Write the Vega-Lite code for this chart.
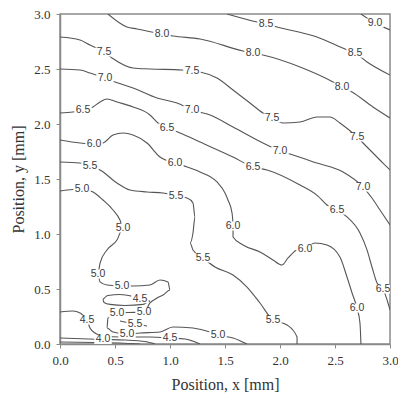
{
  "$schema": "https://vega.github.io/schema/vega-lite/v6.json",
  "width": 330,
  "height": 330,
  "autosize": {"type": "none"},
  "padding": {"left": 60, "top": 14, "right": 8, "bottom": 52},
  "background": "white",
  "config": {
    "view": {"stroke": "#8a8a8a", "strokeWidth": 1.5},
    "axis": {
      "grid": false,
      "labelFlush": false,
      "domainColor": "#8a8a8a",
      "domainWidth": 1.5,
      "tickColor": "#8a8a8a",
      "tickSize": 4,
      "labelFont": "Liberation Serif",
      "labelFontSize": 13,
      "labelColor": "#333333",
      "titleFont": "Liberation Serif",
      "titleFontSize": 16,
      "titleFontWeight": "normal",
      "titleColor": "#333333"
    }
  },
  "datasets": {
    "lines": [
      {"id": "9.0", "i": 0, "x": 2.736, "y": 3.0}, {"id": "9.0", "i": 1, "x": 2.864, "y": 2.918}, {"id": "9.0", "i": 2, "x": 3.0, "y": 2.855},

      {"id": "8.5", "i": 0, "x": 1.518, "y": 3.0}, {"id": "8.5", "i": 1, "x": 1.791, "y": 2.927}, {"id": "8.5", "i": 2, "x": 1.873, "y": 2.909},
      {"id": "8.5", "i": 3, "x": 1.973, "y": 2.882}, {"id": "8.5", "i": 4, "x": 2.336, "y": 2.791}, {"id": "8.5", "i": 5, "x": 2.609, "y": 2.673},
      {"id": "8.5", "i": 6, "x": 2.682, "y": 2.645}, {"id": "8.5", "i": 7, "x": 2.791, "y": 2.564}, {"id": "8.5", "i": 8, "x": 3.0, "y": 2.445},

      {"id": "8.0", "i": 0, "x": 0.436, "y": 3.0}, {"id": "8.0", "i": 1, "x": 0.609, "y": 2.882}, {"id": "8.0", "i": 2, "x": 0.7, "y": 2.864},
      {"id": "8.0", "i": 3, "x": 0.927, "y": 2.818}, {"id": "8.0", "i": 4, "x": 1.027, "y": 2.8}, {"id": "8.0", "i": 5, "x": 1.273, "y": 2.773},
      {"id": "8.0", "i": 6, "x": 1.664, "y": 2.664}, {"id": "8.0", "i": 7, "x": 1.755, "y": 2.645}, {"id": "8.0", "i": 8, "x": 1.845, "y": 2.627},
      {"id": "8.0", "i": 9, "x": 2.182, "y": 2.518}, {"id": "8.0", "i": 10, "x": 2.482, "y": 2.382}, {"id": "8.0", "i": 11, "x": 2.564, "y": 2.336},
      {"id": "8.0", "i": 12, "x": 2.655, "y": 2.291}, {"id": "8.0", "i": 13, "x": 2.845, "y": 2.155}, {"id": "8.0", "i": 14, "x": 3.0, "y": 2.055},

      {"id": "7.5", "i": 0, "x": 0.0, "y": 2.791}, {"id": "7.5", "i": 1, "x": 0.182, "y": 2.764}, {"id": "7.5", "i": 2, "x": 0.273, "y": 2.718},
      {"id": "7.5", "i": 3, "x": 0.4, "y": 2.655}, {"id": "7.5", "i": 4, "x": 0.473, "y": 2.6}, {"id": "7.5", "i": 5, "x": 0.664, "y": 2.509},
      {"id": "7.5", "i": 6, "x": 0.818, "y": 2.5}, {"id": "7.5", "i": 7, "x": 1.109, "y": 2.491}, {"id": "7.5", "i": 8, "x": 1.2, "y": 2.482},
      {"id": "7.5", "i": 9, "x": 1.273, "y": 2.473}, {"id": "7.5", "i": 10, "x": 1.427, "y": 2.418}, {"id": "7.5", "i": 11, "x": 1.573, "y": 2.309},
      {"id": "7.5", "i": 12, "x": 1.727, "y": 2.191}, {"id": "7.5", "i": 13, "x": 1.845, "y": 2.1}, {"id": "7.5", "i": 14, "x": 1.927, "y": 2.055},
      {"id": "7.5", "i": 15, "x": 2.027, "y": 2.009}, {"id": "7.5", "i": 16, "x": 2.182, "y": 2.018}, {"id": "7.5", "i": 17, "x": 2.336, "y": 2.064},
      {"id": "7.5", "i": 18, "x": 2.455, "y": 2.064}, {"id": "7.5", "i": 19, "x": 2.545, "y": 2.009}, {"id": "7.5", "i": 20, "x": 2.7, "y": 1.882},
      {"id": "7.5", "i": 21, "x": 2.791, "y": 1.791}, {"id": "7.5", "i": 22, "x": 2.936, "y": 1.645}, {"id": "7.5", "i": 23, "x": 3.0, "y": 1.582},

      {"id": "7.0", "i": 0, "x": 0.0, "y": 2.5}, {"id": "7.0", "i": 1, "x": 0.182, "y": 2.491}, {"id": "7.0", "i": 2, "x": 0.273, "y": 2.464},
      {"id": "7.0", "i": 3, "x": 0.409, "y": 2.418}, {"id": "7.0", "i": 4, "x": 0.5, "y": 2.382}, {"id": "7.0", "i": 5, "x": 0.664, "y": 2.327},
      {"id": "7.0", "i": 6, "x": 0.882, "y": 2.236}, {"id": "7.0", "i": 7, "x": 1.064, "y": 2.191}, {"id": "7.0", "i": 8, "x": 1.2, "y": 2.127},
      {"id": "7.0", "i": 9, "x": 1.364, "y": 2.082}, {"id": "7.0", "i": 10, "x": 1.573, "y": 1.973}, {"id": "7.0", "i": 11, "x": 1.845, "y": 1.827},
      {"id": "7.0", "i": 12, "x": 2.0, "y": 1.755}, {"id": "7.0", "i": 13, "x": 2.091, "y": 1.727}, {"id": "7.0", "i": 14, "x": 2.336, "y": 1.645},
      {"id": "7.0", "i": 15, "x": 2.573, "y": 1.564}, {"id": "7.0", "i": 16, "x": 2.755, "y": 1.427}, {"id": "7.0", "i": 17, "x": 2.836, "y": 1.327},
      {"id": "7.0", "i": 18, "x": 2.909, "y": 1.218}, {"id": "7.0", "i": 19, "x": 3.0, "y": 1.082},

      {"id": "6.5", "i": 0, "x": 0.0, "y": 2.1}, {"id": "6.5", "i": 1, "x": 0.118, "y": 2.109}, {"id": "6.5", "i": 2, "x": 0.209, "y": 2.127},
      {"id": "6.5", "i": 3, "x": 0.3, "y": 2.155}, {"id": "6.5", "i": 4, "x": 0.364, "y": 2.2}, {"id": "6.5", "i": 5, "x": 0.427, "y": 2.227},
      {"id": "6.5", "i": 6, "x": 0.518, "y": 2.2}, {"id": "6.5", "i": 7, "x": 0.664, "y": 2.155}, {"id": "6.5", "i": 8, "x": 0.818, "y": 2.082},
      {"id": "6.5", "i": 9, "x": 0.891, "y": 2.009}, {"id": "6.5", "i": 10, "x": 0.973, "y": 1.964}, {"id": "6.5", "i": 11, "x": 1.091, "y": 1.918},
      {"id": "6.5", "i": 12, "x": 1.273, "y": 1.836}, {"id": "6.5", "i": 13, "x": 1.573, "y": 1.7}, {"id": "6.5", "i": 14, "x": 1.755, "y": 1.609},
      {"id": "6.5", "i": 15, "x": 1.882, "y": 1.582}, {"id": "6.5", "i": 16, "x": 2.182, "y": 1.445}, {"id": "6.5", "i": 17, "x": 2.345, "y": 1.345},
      {"id": "6.5", "i": 18, "x": 2.427, "y": 1.264}, {"id": "6.5", "i": 19, "x": 2.518, "y": 1.218}, {"id": "6.5", "i": 20, "x": 2.609, "y": 1.155},
      {"id": "6.5", "i": 21, "x": 2.727, "y": 1.009}, {"id": "6.5", "i": 22, "x": 2.791, "y": 0.855}, {"id": "6.5", "i": 23, "x": 2.836, "y": 0.7},
      {"id": "6.5", "i": 24, "x": 2.882, "y": 0.555}, {"id": "6.5", "i": 25, "x": 2.936, "y": 0.5}, {"id": "6.5", "i": 26, "x": 2.982, "y": 0.373},
      {"id": "6.5", "i": 27, "x": 3.0, "y": 0.309},

      {"id": "6.0", "i": 0, "x": 0.0, "y": 1.855}, {"id": "6.0", "i": 1, "x": 0.182, "y": 1.827}, {"id": "6.0", "i": 2, "x": 0.309, "y": 1.818},
      {"id": "6.0", "i": 3, "x": 0.391, "y": 1.827}, {"id": "6.0", "i": 4, "x": 0.482, "y": 1.9}, {"id": "6.0", "i": 5, "x": 0.573, "y": 1.918},
      {"id": "6.0", "i": 6, "x": 0.664, "y": 1.9}, {"id": "6.0", "i": 7, "x": 0.791, "y": 1.827}, {"id": "6.0", "i": 8, "x": 0.909, "y": 1.7},
      {"id": "6.0", "i": 9, "x": 1.045, "y": 1.645}, {"id": "6.0", "i": 10, "x": 1.155, "y": 1.609}, {"id": "6.0", "i": 11, "x": 1.273, "y": 1.564},
      {"id": "6.0", "i": 12, "x": 1.427, "y": 1.473}, {"id": "6.0", "i": 13, "x": 1.5, "y": 1.373}, {"id": "6.0", "i": 14, "x": 1.527, "y": 1.309},
      {"id": "6.0", "i": 15, "x": 1.564, "y": 1.191}, {"id": "6.0", "i": 16, "x": 1.573, "y": 1.073}, {"id": "6.0", "i": 17, "x": 1.573, "y": 0.973},
      {"id": "6.0", "i": 18, "x": 1.664, "y": 0.9}, {"id": "6.0", "i": 19, "x": 1.818, "y": 0.836}, {"id": "6.0", "i": 20, "x": 1.936, "y": 0.764},
      {"id": "6.0", "i": 21, "x": 2.018, "y": 0.718}, {"id": "6.0", "i": 22, "x": 2.073, "y": 0.782}, {"id": "6.0", "i": 23, "x": 2.155, "y": 0.855},
      {"id": "6.0", "i": 24, "x": 2.227, "y": 0.864}, {"id": "6.0", "i": 25, "x": 2.318, "y": 0.918}, {"id": "6.0", "i": 26, "x": 2.427, "y": 0.9},
      {"id": "6.0", "i": 27, "x": 2.545, "y": 0.791}, {"id": "6.0", "i": 28, "x": 2.609, "y": 0.609}, {"id": "6.0", "i": 29, "x": 2.655, "y": 0.464},
      {"id": "6.0", "i": 30, "x": 2.7, "y": 0.327}, {"id": "6.0", "i": 31, "x": 2.727, "y": 0.191}, {"id": "6.0", "i": 32, "x": 2.736, "y": 0.0},

      {"id": "5.5", "i": 0, "x": 0.0, "y": 1.655}, {"id": "5.5", "i": 1, "x": 0.182, "y": 1.645}, {"id": "5.5", "i": 2, "x": 0.273, "y": 1.618},
      {"id": "5.5", "i": 3, "x": 0.364, "y": 1.582}, {"id": "5.5", "i": 4, "x": 0.518, "y": 1.464}, {"id": "5.5", "i": 5, "x": 0.636, "y": 1.4},
      {"id": "5.5", "i": 6, "x": 0.791, "y": 1.382}, {"id": "5.5", "i": 7, "x": 0.936, "y": 1.373}, {"id": "5.5", "i": 8, "x": 1.055, "y": 1.345},
      {"id": "5.5", "i": 9, "x": 1.155, "y": 1.327}, {"id": "5.5", "i": 10, "x": 1.209, "y": 1.282}, {"id": "5.5", "i": 11, "x": 1.227, "y": 1.155},
      {"id": "5.5", "i": 12, "x": 1.209, "y": 1.009}, {"id": "5.5", "i": 13, "x": 1.182, "y": 0.918}, {"id": "5.5", "i": 14, "x": 1.209, "y": 0.855},
      {"id": "5.5", "i": 15, "x": 1.3, "y": 0.782}, {"id": "5.5", "i": 16, "x": 1.409, "y": 0.7}, {"id": "5.5", "i": 17, "x": 1.573, "y": 0.627},
      {"id": "5.5", "i": 18, "x": 1.7, "y": 0.518}, {"id": "5.5", "i": 19, "x": 1.818, "y": 0.373}, {"id": "5.5", "i": 20, "x": 1.936, "y": 0.218},
      {"id": "5.5", "i": 21, "x": 2.064, "y": 0.173}, {"id": "5.5", "i": 22, "x": 2.155, "y": 0.064}, {"id": "5.5", "i": 23, "x": 2.155, "y": 0.0},

      {"id": "5.5b", "i": 0, "x": 0.545, "y": 0.209}, {"id": "5.5b", "i": 1, "x": 0.682, "y": 0.182}, {"id": "5.5b", "i": 2, "x": 0.791, "y": 0.164},

      {"id": "5.0", "i": 0, "x": 0.0, "y": 1.391}, {"id": "5.0", "i": 1, "x": 0.2, "y": 1.409}, {"id": "5.0", "i": 2, "x": 0.3, "y": 1.382},
      {"id": "5.0", "i": 3, "x": 0.391, "y": 1.309}, {"id": "5.0", "i": 4, "x": 0.482, "y": 1.218}, {"id": "5.0", "i": 5, "x": 0.545, "y": 1.127},
      {"id": "5.0", "i": 6, "x": 0.573, "y": 1.055}, {"id": "5.0", "i": 7, "x": 0.518, "y": 0.945}, {"id": "5.0", "i": 8, "x": 0.427, "y": 0.855},
      {"id": "5.0", "i": 9, "x": 0.364, "y": 0.736}, {"id": "5.0", "i": 10, "x": 0.345, "y": 0.636}, {"id": "5.0", "i": 11, "x": 0.364, "y": 0.564},
      {"id": "5.0", "i": 12, "x": 0.427, "y": 0.536}, {"id": "5.0", "i": 13, "x": 0.564, "y": 0.527}, {"id": "5.0", "i": 14, "x": 0.664, "y": 0.527},
      {"id": "5.0", "i": 15, "x": 0.818, "y": 0.536}, {"id": "5.0", "i": 16, "x": 0.909, "y": 0.582}, {"id": "5.0", "i": 17, "x": 0.982, "y": 0.564},
      {"id": "5.0", "i": 18, "x": 1.0, "y": 0.491}, {"id": "5.0", "i": 19, "x": 0.936, "y": 0.445}, {"id": "5.0", "i": 20, "x": 0.882, "y": 0.418},
      {"id": "5.0", "i": 21, "x": 0.818, "y": 0.373}, {"id": "5.0", "i": 22, "x": 0.764, "y": 0.29}, {"id": "5.0", "i": 23, "x": 0.618, "y": 0.286},
      {"id": "5.0", "i": 24, "x": 0.518, "y": 0.282}, {"id": "5.0", "i": 25, "x": 0.436, "y": 0.236}, {"id": "5.0", "i": 26, "x": 0.427, "y": 0.145},
      {"id": "5.0", "i": 27, "x": 0.482, "y": 0.109}, {"id": "5.0", "i": 28, "x": 0.609, "y": 0.091}, {"id": "5.0", "i": 29, "x": 0.727, "y": 0.1},
      {"id": "5.0", "i": 30, "x": 0.909, "y": 0.109}, {"id": "5.0", "i": 31, "x": 1.027, "y": 0.155}, {"id": "5.0", "i": 32, "x": 1.209, "y": 0.145},
      {"id": "5.0", "i": 33, "x": 1.364, "y": 0.109}, {"id": "5.0", "i": 34, "x": 1.436, "y": 0.082}, {"id": "5.0", "i": 35, "x": 1.573, "y": 0.055},
      {"id": "5.0", "i": 36, "x": 1.7, "y": 0.0},

      {"id": "4.5a", "i": 0, "x": 0.391, "y": 0.405}, {"id": "4.5a", "i": 1, "x": 0.436, "y": 0.441}, {"id": "4.5a", "i": 2, "x": 0.545, "y": 0.45},
      {"id": "4.5a", "i": 3, "x": 0.664, "y": 0.432}, {"id": "4.5a", "i": 4, "x": 0.745, "y": 0.41}, {"id": "4.5a", "i": 5, "x": 0.818, "y": 0.39},
      {"id": "4.5a", "i": 6, "x": 0.755, "y": 0.36}, {"id": "4.5a", "i": 7, "x": 0.591, "y": 0.35}, {"id": "4.5a", "i": 8, "x": 0.455, "y": 0.36},
      {"id": "4.5a", "i": 9, "x": 0.4, "y": 0.378}, {"id": "4.5a", "i": 10, "x": 0.391, "y": 0.405},

      {"id": "4.5b", "i": 0, "x": 0.0, "y": 0.291}, {"id": "4.5b", "i": 1, "x": 0.118, "y": 0.3}, {"id": "4.5b", "i": 2, "x": 0.182, "y": 0.282},
      {"id": "4.5b", "i": 3, "x": 0.245, "y": 0.218}, {"id": "4.5b", "i": 4, "x": 0.273, "y": 0.145}, {"id": "4.5b", "i": 5, "x": 0.318, "y": 0.1},
      {"id": "4.5b", "i": 6, "x": 0.391, "y": 0.073}, {"id": "4.5b", "i": 7, "x": 0.545, "y": 0.064}, {"id": "4.5b", "i": 8, "x": 0.818, "y": 0.064},
      {"id": "4.5b", "i": 9, "x": 1.0, "y": 0.055}, {"id": "4.5b", "i": 10, "x": 1.136, "y": 0.045}, {"id": "4.5b", "i": 11, "x": 1.273, "y": 0.0},

      {"id": "4.0", "i": 0, "x": 0.0, "y": 0.055}, {"id": "4.0", "i": 1, "x": 0.391, "y": 0.041}, {"id": "4.0", "i": 2, "x": 0.591, "y": 0.036},
      {"id": "4.0", "i": 3, "x": 0.773, "y": 0.023}, {"id": "4.0", "i": 4, "x": 0.864, "y": 0.0},

      {"id": "4.0b", "i": 0, "x": 0.0, "y": 0.018}, {"id": "4.0b", "i": 1, "x": 0.545, "y": 0.009}, {"id": "4.0b", "i": 2, "x": 0.727, "y": 0.0}
    ],
    "labels": [
      {"label": "9.0", "x": 2.864, "y": 2.918},
      {"label": "8.5", "x": 1.873, "y": 2.909}, {"label": "8.5", "x": 2.682, "y": 2.645},
      {"label": "8.0", "x": 0.927, "y": 2.818}, {"label": "8.0", "x": 1.755, "y": 2.645}, {"label": "8.0", "x": 2.564, "y": 2.336},
      {"label": "7.5", "x": 0.4, "y": 2.655}, {"label": "7.5", "x": 1.2, "y": 2.482}, {"label": "7.5", "x": 1.927, "y": 2.055}, {"label": "7.5", "x": 2.7, "y": 1.882},
      {"label": "7.0", "x": 0.409, "y": 2.418}, {"label": "7.0", "x": 1.2, "y": 2.127}, {"label": "7.0", "x": 2.0, "y": 1.755}, {"label": "7.0", "x": 2.755, "y": 1.427},
      {"label": "6.5", "x": 0.209, "y": 2.127}, {"label": "6.5", "x": 0.973, "y": 1.964}, {"label": "6.5", "x": 1.755, "y": 1.609}, {"label": "6.5", "x": 2.518, "y": 1.218}, {"label": "6.5", "x": 2.936, "y": 0.5},
      {"label": "6.0", "x": 0.309, "y": 1.818}, {"label": "6.0", "x": 1.045, "y": 1.645}, {"label": "6.0", "x": 1.573, "y": 1.073}, {"label": "6.0", "x": 2.227, "y": 0.864}, {"label": "6.0", "x": 2.7, "y": 0.327},
      {"label": "5.5", "x": 0.273, "y": 1.618}, {"label": "5.5", "x": 1.055, "y": 1.345}, {"label": "5.5", "x": 1.3, "y": 0.782}, {"label": "5.5", "x": 1.936, "y": 0.218}, {"label": "5.5", "x": 0.682, "y": 0.182},
      {"label": "5.0", "x": 0.2, "y": 1.409}, {"label": "5.0", "x": 0.573, "y": 1.055}, {"label": "5.0", "x": 0.345, "y": 0.636}, {"label": "5.0", "x": 0.564, "y": 0.527},
      {"label": "5.0", "x": 0.764, "y": 0.288}, {"label": "5.0", "x": 0.518, "y": 0.282}, {"label": "5.0", "x": 0.609, "y": 0.091}, {"label": "5.0", "x": 1.436, "y": 0.082},
      {"label": "4.5", "x": 0.245, "y": 0.218}, {"label": "4.5", "x": 1.0, "y": 0.055}, {"label": "4.5", "x": 0.727, "y": 0.412},
      {"label": "4.0", "x": 0.391, "y": 0.041}
    ]
  },
  "encoding": {
    "x": {
      "field": "x", "type": "quantitative",
      "scale": {"domain": [0, 3], "nice": false},
      "axis": {"values": [0, 0.5, 1, 1.5, 2, 2.5, 3], "format": ".1f", "title": "Position, x [mm]", "labelPadding": 6, "titlePadding": 9}
    },
    "y": {
      "field": "y", "type": "quantitative",
      "scale": {"domain": [0, 3], "nice": false},
      "axis": {"values": [0, 0.5, 1, 1.5, 2, 2.5, 3], "format": ".1f", "title": "Position, y [mm]", "labelPadding": 6, "titlePadding": 7}
    }
  },
  "layer": [
    {
      "data": {"name": "lines"},
      "mark": {"type": "line", "color": "#555555", "strokeWidth": 1.1, "interpolate": "monotone", "clip": true},
      "encoding": {
        "detail": {"field": "id", "type": "nominal"},
        "order": {"field": "i", "type": "quantitative"}
      }
    },
    {
      "data": {"name": "labels"},
      "mark": {"type": "point", "shape": "M-1.15,-0.6H1.15V0.6H-1.15Z", "filled": true, "color": "white", "opacity": 1, "size": 230, "clip": true}
    },
    {
      "data": {"name": "labels"},
      "mark": {"type": "text", "font": "Liberation Sans", "fontSize": 10.5, "color": "#3a3a3a", "align": "center", "baseline": "middle", "clip": true},
      "encoding": {"text": {"field": "label", "type": "nominal"}}
    }
  ]
}
